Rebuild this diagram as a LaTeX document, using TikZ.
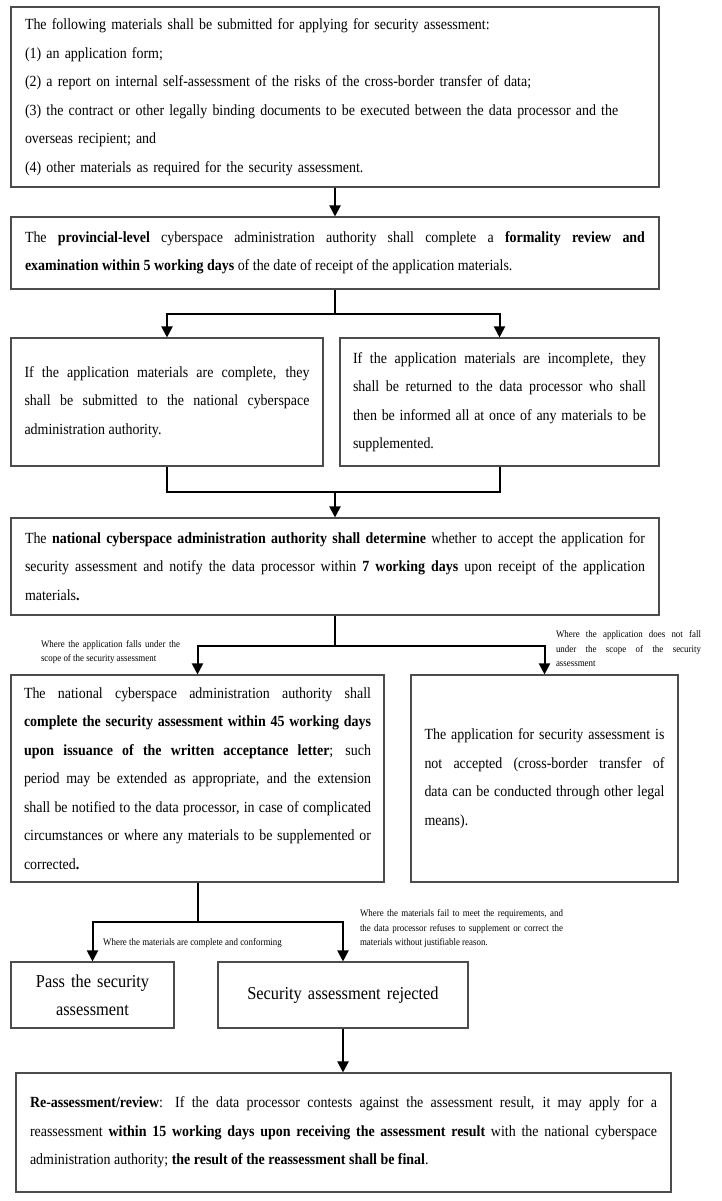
\documentclass[tikz,border=0pt]{standalone}
\usepackage{fontspec}
\setmainfont{Liberation Serif}[FakeStretch=0.90]
\usetikzlibrary{arrows.meta}
\newcommand\bodyfs{\fontsize{15.5}{28.5}\selectfont}
\newcommand\smallfs{\fontsize{9.9}{14.5}\selectfont}
\newcommand\bigfs{\fontsize{18.2}{28}\selectfont}
\tikzset{
  box/.style={draw=black!70, line width=1.1pt, inner xsep=0pt, inner ysep=0pt, font=\bodyfs, align=justify},
  conn/.style={draw=black, line width=2pt, -{Triangle[width=11pt,length=11pt]}},
  plain/.style={draw=black, line width=2pt},
  lbl/.style={font=\smallfs, inner sep=0pt, align=justify}
}
\begin{document}
\begin{tikzpicture}[x=1pt,y=-1pt]
\useasboundingbox (0,0) rectangle (722,1201);
\fill[white] (0,0) rectangle (722,1201);

\node[box, align=left, text width=620, minimum width=648, minimum height=180] (b1) at (335,97)
{The following materials shall be submitted for applying for security assessment:\\
(1) an application form;\\
(2) a report on internal self-assessment of the risks of the cross-border transfer of data;\\
(3) the contract or other legally binding documents to be executed between the data processor and the\\
overseas recipient; and\\
(4) other materials as required for the security assessment.};

\node[box, text width=620, minimum width=648, minimum height=72] (b2) at (335,253)
{The \textbf{provincial-level} cyberspace administration authority shall complete a \textbf{formality review and}\linebreak
\textbf{examination within 5 working days} of the date of receipt of the application materials.};

\node[box, text width=285, minimum width=312, minimum height=128] (b3l) at (167,402)
{If the application materials are complete, they\linebreak
shall be submitted to the national cyberspace\linebreak
administration authority.};

\node[box, text width=293, minimum width=319, minimum height=128] (b3r) at (499.5,402)
{If the application materials are incomplete, they\linebreak
shall be returned to the data processor who shall\linebreak
then be informed all at once of any materials to be\linebreak
supplemented.};

\node[box, text width=620, minimum width=648, minimum height=97] (b4) at (335,566.5)
{The \textbf{national cyberspace administration authority shall determine} whether to accept the application for\linebreak
security assessment and notify the data processor within \textbf{7 working days} upon receipt of the application\linebreak
materials\textbf{.}};

\node[box, text width=347, minimum width=373, minimum height=207] (b5l) at (197.5,778.5)
{The national cyberspace administration authority shall\linebreak
\textbf{complete the security assessment within 45 working days}\linebreak
\textbf{upon issuance of the written acceptance letter}; such\linebreak
period may be extended as appropriate, and the extension\linebreak
shall be notified to the data processor, in case of complicated\linebreak
circumstances or where any materials to be supplemented or\linebreak
corrected\textbf{.}};

\node[box, text width=240, minimum width=267, minimum height=207] (b5r) at (544.5,778.5)
{The application for security assessment is\linebreak
not accepted (cross-border transfer of\linebreak
data can be conducted through other legal\linebreak
means).\par\vspace*{27pt}};

\node[box, font=\bigfs, align=center, text width=150, minimum width=163, minimum height=66] (b6l) at (92.5,995)
{Pass the security\\assessment};

\node[box, font=\bigfs, align=center, text width=230, minimum width=250, minimum height=66] (b6r) at (343,995)
{Security assessment rejected};

\node[box, text width=627, minimum width=655, minimum height=119] (b7) at (343.5,1132.5)
{\textbf{Re-assessment/review}: If the data processor contests against the assessment result, it may apply for a\linebreak
reassessment \textbf{within 15 working days upon receiving the assessment result} with the national cyberspace\linebreak
administration authority; \textbf{the result of the reassessment shall be final}.};

% labels
\node[lbl, text width=139] (l1) at (110.5,652)
{Where the application falls under the\linebreak scope of the security assessment};
\node[lbl, text width=145] (l2) at (628.5,649)
{Where the application does not fall\linebreak under the scope of the security\linebreak assessment};
\node[lbl, anchor=west] (l3) at (103,943)
{Where the materials are complete and conforming};
\node[lbl, text width=203] (l4) at (461.5,929)
{Where the materials fail to meet the requirements, and\linebreak
the data processor refuses to supplement or correct the\linebreak
materials without justifiable reason.};

% connectors
\draw[conn] (b1) -- (b2);
\coordinate (s1) at (335,314);
\draw[plain] (b2.south) -- (s1);
\draw[conn] (s1) -| (b3l.north);
\draw[conn] (s1) -| (b3r.north);
\coordinate (j) at (335,492);
\draw[plain] (b3l.south) |- (j) -| (b3r.south);
\draw[conn] (j) -- (b4.north);
\coordinate (k) at (335,646);
\draw[plain] (b4.south) -- (k);
\draw[conn] (k) -| (b5l.north);
\draw[conn] (k) -| (b5r.north);
\coordinate (m) at (197.5,922);
\draw[plain] (b5l.south) -- (m);
\draw[conn] (m) -| (b6l.north);
\draw[conn] (m) -| (b6r.north);
\draw[conn] (b6r.south) -- (b6r.south |- b7.north);
\end{tikzpicture}
\end{document}
